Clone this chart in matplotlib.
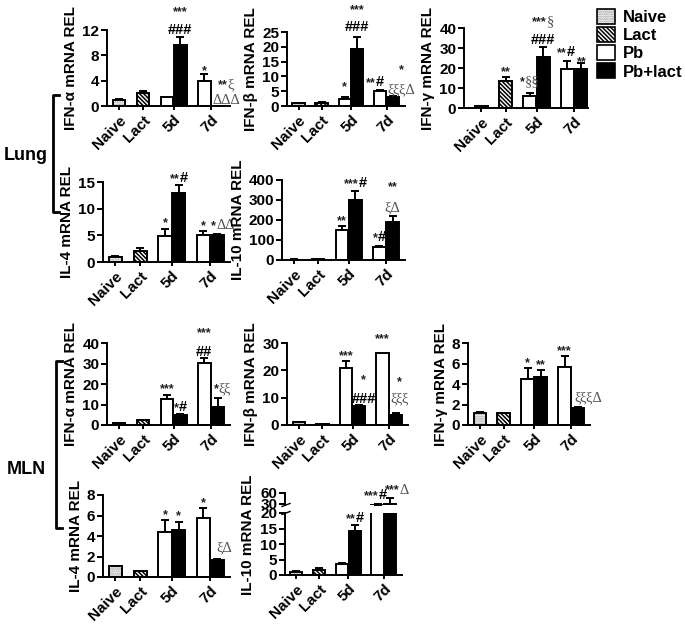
import matplotlib
matplotlib.use('Agg')
import matplotlib.pyplot as plt
from matplotlib.patches import Patch
from matplotlib.lines import Line2D
from matplotlib.offsetbox import TextArea, HPacker, AnnotationBbox

plt.rcParams['font.family'] = ['Liberation Sans', 'DejaVu Sans']
plt.rcParams['font.weight'] = 'bold'
plt.rcParams['axes.labelweight'] = 'bold'
plt.rcParams['hatch.color'] = '#9a9a9a'
plt.rcParams['hatch.linewidth'] = 1.1

# ---------------- data ----------------
groups = ['Naive', 'Lact', 'Pb', 'Pb+lact', 'Pb', 'Pb+lact']   # bar kinds (Naive, Lact, 5d x2, 7d x2)
tick_labels = ['Naive', 'Lact', '5d', '7d']
legend_labels = ['Naive', 'Lact', 'Pb', 'Pb+lact']

lung_ifna = [1.0, 2.1, 1.4, 9.7, 4.0, 0.05]
lung_ifna_err = [0.1, 0.3, 0.1, 1.2, 1.1, 0.0]
lung_ifnb = [1.0, 1.0, 2.5, 19.2, 5.1, 3.0]
lung_ifnb_err = [0.1, 0.2, 0.4, 4.0, 0.3, 0.3]
lung_ifng = [0.8, 13.5, 6.0, 25.5, 19.5, 19.5]
lung_ifng_err = [0.2, 2.2, 1.5, 5.0, 4.0, 3.0]
lung_il4 = [1.0, 2.0, 4.8, 12.9, 5.0, 5.1]
lung_il4_err = [0.2, 0.6, 1.3, 1.5, 0.9, 0.2]
lung_il10 = [2.0, 3.0, 150.0, 302.0, 65.0, 192.0]
lung_il10_err = [0.5, 0.5, 22.0, 43.0, 6.0, 27.0]

mln_ifna = [0.8, 2.3, 12.6, 4.9, 30.4, 8.9]
mln_ifna_err = [0.2, 0.3, 2.0, 0.3, 2.1, 4.1]
mln_ifnb = [1.0, 0.3, 20.9, 7.0, 26.3, 3.7]
mln_ifnb_err = [0.2, 0.1, 2.6, 0.3, 0.0, 0.8]
mln_ifng = [1.15, 1.15, 4.5, 4.65, 5.7, 1.67]
mln_ifng_err = [0.15, 0.05, 1.1, 0.7, 1.0, 0.05]
mln_il4 = [1.05, 0.55, 4.4, 4.6, 5.75, 1.7]
mln_il4_err = [0.05, 0.05, 1.2, 0.8, 1.0, 0.1]
mln_il10 = [1.0, 1.6, 3.5, 14.2, 28.0, 31.0]
mln_il10_err = [0.2, 0.6, 0.4, 1.8, 3.0, 16.0]

# significance annotations: (x in category units, y value, text, align)
lung_ifna_sig = [(2.55, 14.8, '***', 'c'), (2.55, 12.0, '###', 'c'), (3.55, 5.5, '*', 'c'),
                 (4.1, 3.3, '**ξ', 'l'), (3.9, 0.8, 'ΔΔΔ', 'l')]
lung_ifnb_sig = [(2.55, 32.4, '***', 'c'), (2.55, 26.7, '###', 'c'), (2.0, 6.4, '*', 'c'),
                 (3.3, 8.1, '**#', 'c'), (4.45, 5.4, 'ξξξΔ', 'c'), (4.45, 12.2, '*', 'c')]
lung_ifng_sig = [(1.0, 18.0, '**', 'c'), (2.0, 13.0, '*§§', 'c'), (2.55, 43.0, '***§', 'c'),
                 (2.55, 34.0, '###', 'c'), (3.5, 28.0, '**#', 'c'), (4.15, 23.0, '**', 'c')]
lung_il4_sig = [(2.0, 7.3, '*', 'c'), (2.55, 15.8, '**#', 'c'), (3.55, 6.8, '*', 'c'),
                (3.86, 6.9, '*ΔΔ', 'l')]
lung_il10_sig = [(2.0, 195, '**', 'c'), (2.55, 385, '***#', 'c'), (3.55, 115, '*#', 'c'),
                 (4.1, 260, 'ξΔ', 'c'), (4.1, 365, '**', 'c')]
mln_ifna_sig = [(2.0, 17.5, '***', 'c'), (2.55, 8.8, '*#', 'c'), (3.55, 45.0, '***', 'c'),
                (3.55, 35.6, '##', 'c'), (3.95, 17.5, '*ξξ', 'l')]
mln_ifnb_sig = [(2.0, 25.0, '***', 'c'), (2.75, 16.5, '*', 'c'), (2.75, 9.5, '###', 'c'),
                (3.55, 31.5, '***', 'c'), (4.25, 15.7, '*', 'c'), (4.25, 9.5, 'ξξξ', 'c')]
mln_ifng_sig = [(2.0, 6.0, '*', 'c'), (2.55, 5.85, '**', 'c'), (3.55, 7.2, '***', 'c'),
                (3.95, 2.6, 'ξξξΔ', 'l')]
mln_il4_sig = [(2.0, 6.0, '*', 'c'), (2.55, 5.9, '*', 'c'), (3.55, 7.2, '*', 'c'),
               (4.4, 2.8, 'ξΔ', 'c')]
mln_il10_sig_low = [(2.55, 18.4, '**#', 'c')]
mln_il10_sig_up = [(3.45, 54.5, '***#', 'c'), (4.4, 68.0, '***Δ', 'c')]

# ---------------- layout ----------------
W, H = 685, 625
fig = plt.figure(figsize=(W / 100, H / 100), dpi=100)

POS = [0, 1, 2, 2.55, 3.55, 4.1]
BW = 0.53
TICKPOS = [0, 1, 2.275, 3.825]
LW = 1.4
LACT_HATCH = '\\\\\\\\\\\\\\\\'
NAIVE_HATCH = '.......'


def rect(l, t, r, b):
    return [l / W, 1 - b / H, (r - l) / W, (b - t) / H]


def draw_bars(ax, vals, errs):
    for x, v, e, kind in zip(POS, vals, errs, groups):
        if kind == 'Naive':
            ax.bar(x, v, BW, color='white', hatch=NAIVE_HATCH, linewidth=0, zorder=2)
            ax.bar(x, v, BW, fill=False, edgecolor='black', linewidth=LW, zorder=3)
        elif kind == 'Lact':
            ax.bar(x, v, BW, color='white', edgecolor='black', hatch=LACT_HATCH,
                   linewidth=LW, zorder=2)
        elif kind == 'Pb':
            ax.bar(x, v, BW, color='white', edgecolor='black', linewidth=LW, zorder=2)
        else:
            ax.bar(x, v, BW, color='black', edgecolor='black', linewidth=LW, zorder=2)
        if e > 0:
            ax.errorbar(x, v, yerr=[[0], [e]], fmt='none', ecolor='black',
                        elinewidth=LW, capsize=3.2, capthick=LW, zorder=1)


def style_axes(ax, ylim, yticks, xlim=(-0.5, 4.62), bottom=True):
    ax.set_xlim(*xlim)
    ax.set_ylim(*ylim)
    ax.set_yticks(yticks)
    for s in ['top', 'right']:
        ax.spines[s].set_visible(False)
    ax.spines['left'].set_linewidth(LW)
    ax.spines['bottom'].set_linewidth(LW)
    ax.tick_params(axis='y', direction='out', length=4, width=LW, labelsize=11, pad=1.5)
    if bottom:
        ax.set_xticks(TICKPOS)
        ax.set_xticklabels(tick_labels, rotation=45, ha='right', rotation_mode='anchor',
                           fontsize=11, fontweight='bold')
        ax.tick_params(axis='x', direction='out', length=3, width=LW, pad=2)
    else:
        ax.spines['bottom'].set_visible(False)
        ax.set_xticks([])


def sig_text(ax, x, y, text, align):
    runs = []
    for ch in text:
        if ch == '*':
            kind = 's'
        elif ch == '#':
            kind = 'h'
        else:
            kind = 'g'
        if runs and runs[-1][0] == kind:
            runs[-1][1] += ch
        else:
            runs.append([kind, ch])
    children = []
    for kind, s in runs:
        if kind == 's':
            tp = dict(fontsize=9, fontweight='bold', family='Liberation Sans', color='#222222')
        elif kind == 'h':
            tp = dict(fontsize=10.5, fontweight='bold', family='Liberation Sans', color='black')
        else:
            tp = dict(fontsize=10.5, fontweight='normal', family='Liberation Serif', color='#555555')
        children.append(TextArea(s, textprops=tp))
    box = HPacker(children=children, align='baseline', pad=0, sep=0)
    ha = {'c': 0.5, 'l': 0.0, 'r': 1.0}[align]
    ab = AnnotationBbox(box, (x, y), xycoords='data', frameon=False, pad=0,
                        box_alignment=(ha, 0.5), annotation_clip=False, zorder=5)
    ax.add_artist(ab)


def panel(r, vals, errs, ylim, yticks, ylabel, sigs, xlim=(-0.5, 4.62)):
    ax = fig.add_axes(rect(*r))
    draw_bars(ax, vals, errs)
    style_axes(ax, ylim, yticks, xlim)
    ax.set_ylabel(ylabel, fontsize=11, fontweight='bold', labelpad=3)
    for x, y, t, a in sigs:
        sig_text(ax, x, y, t, a)
    return ax


panel((107, 30, 230, 106), lung_ifna, lung_ifna_err, (0, 12), [0, 4, 8, 12],
      'IFN-α mRNA REL', lung_ifna_sig)
panel((287, 32, 405, 106), lung_ifnb, lung_ifnb_err, (0, 25), [0, 5, 10, 15, 20, 25],
      'IFN-β mRNA REL', lung_ifnb_sig)
panel((464, 28, 588, 108), lung_ifng, lung_ifng_err, (0, 40), [0, 10, 20, 30, 40],
      'IFN-γ mRNA REL', lung_ifng_sig, xlim=(-0.72, 4.4))
panel((103, 182, 230, 262), lung_il4, lung_il4_err, (0, 15), [0, 5, 10, 15],
      'IL-4 mRNA REL', lung_il4_sig)
panel((282, 180, 405, 260), lung_il10, lung_il10_err, (0, 400), [0, 100, 200, 300, 400],
      'IL-10 mRNA REL', lung_il10_sig)

panel((107, 343, 230, 425), mln_ifna, mln_ifna_err, (0, 40), [0, 10, 20, 30, 40],
      'IFN-α mRNA REL', mln_ifna_sig)
panel((287, 343, 408, 425), mln_ifnb, mln_ifnb_err, (0, 30), [0, 10, 20, 30],
      'IFN-β mRNA REL', mln_ifnb_sig)
panel((468, 343, 590, 425), mln_ifng, mln_ifng_err, (0, 8), [0, 2, 4, 6, 8],
      'IFN-γ mRNA REL', mln_ifng_sig)
panel((103, 495, 230, 577), mln_il4, mln_il4_err, (0, 8), [0, 2, 4, 6, 8],
      'IL-4 mRNA REL', mln_il4_sig)

# broken-axis IL-10 (MLN)
axl = fig.add_axes(rect(285, 513, 402, 575))
draw_bars(axl, mln_il10, mln_il10_err)
style_axes(axl, (0, 20), [0, 5, 10, 15, 20])
for x, y, t, a in mln_il10_sig_low:
    sig_text(axl, x, y, t, a)
axu = fig.add_axes(rect(285, 493, 402, 505))
draw_bars(axu, mln_il10, mln_il10_err)
style_axes(axu, (27, 60), [30, 60], bottom=False)
for x, y, t, a in mln_il10_sig_up:
    sig_text(axu, x, y, t, a)
fig.text(248 / W, 1 - 535 / H, 'IL-10 mRNA REL', rotation=90, ha='center', va='center',
         fontsize=11, fontweight='bold')
# break marks
for yy in (505, 513):
    fig.add_artist(Line2D([(282) / W, (290) / W], [1 - (yy + 1.5) / H, 1 - (yy - 1.5) / H],
                          color='black', lw=1.0))

# ---------------- brackets and row labels ----------------
def bracket(x, y1, y2):
    fig.add_artist(Line2D([(x + 6) / W, x / W, x / W, (x + 6) / W],
                          [1 - y1 / H, 1 - y1 / H, 1 - y2 / H, 1 - y2 / H],
                          color='black', lw=2.0))


bracket(53, 95, 212)
bracket(56, 361, 528)
fig.text(4 / W, 1 - 155 / H, 'Lung', ha='left', va='center', fontsize=13, fontweight='bold')
fig.text(7 / W, 1 - 469 / H, 'MLN', ha='left', va='center', fontsize=13, fontweight='bold')

# ---------------- legend ----------------
naive_h = (Patch(facecolor='white', hatch=NAIVE_HATCH, linewidth=0),
           Patch(facecolor='none', edgecolor='black', linewidth=1.2))
lact_h = Patch(facecolor='white', edgecolor='black', hatch=LACT_HATCH, linewidth=1.2)
pb_h = Patch(facecolor='white', edgecolor='black', linewidth=1.2)
pbl_h = Patch(facecolor='black', edgecolor='black', linewidth=1.2)
fig.legend([naive_h, lact_h, pb_h, pbl_h], legend_labels, loc='upper left',
           bbox_to_anchor=(597 / W, 1 - 9 / H), frameon=False, handlelength=1.1,
           handleheight=1.0, handletextpad=0.45, labelspacing=0.12, borderaxespad=0,
           borderpad=0, prop=dict(size=12, weight='bold'))

fig.savefig('out.png', dpi=100)
